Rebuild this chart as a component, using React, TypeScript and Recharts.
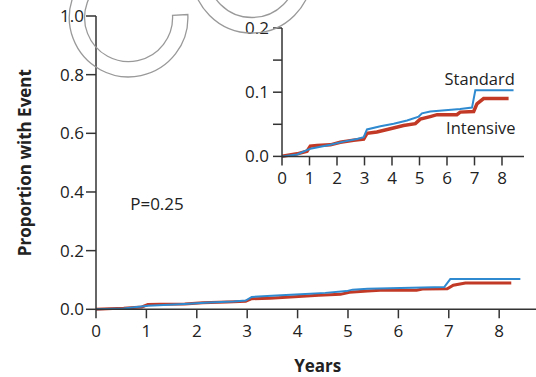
import { LineChart, Line, XAxis, YAxis, ReferenceDot } from 'recharts';

// Kaplan-Meier style cumulative incidence
const standardYears = [0, 0.55, 1.03, 1.76, 2.24, 2.73, 2.97, 3.09, 3.58, 4.06, 4.55, 4.97, 5.09, 5.39, 6.48, 6.91, 7.03, 8.42];
const standardRisk = [0, 0.003, 0.012, 0.018, 0.023, 0.027, 0.03, 0.042, 0.047, 0.051, 0.056, 0.062, 0.067, 0.07, 0.074, 0.076, 0.103, 0.103];

const intensiveYears = [0, 0.55, 0.91, 1.03, 1.27, 1.76, 2.12, 2.6, 2.97, 3.09, 3.45, 3.94, 4.42, 4.85, 5.03, 5.39, 5.64, 6.36, 6.48, 6.97, 7.09, 7.33, 8.24];
const intensiveRisk = [0, 0.004, 0.008, 0.016, 0.017, 0.018, 0.022, 0.025, 0.027, 0.036, 0.038, 0.043, 0.048, 0.051, 0.058, 0.062, 0.065, 0.065, 0.069, 0.07, 0.082, 0.09, 0.09];

const yearTicks = [0, 1, 2, 3, 4, 5, 6, 7, 8];
const mainYTicks = [0, 0.2, 0.4, 0.6, 0.8, 1.0];
const insetYTicks = [0, 0.05, 0.1, 0.15, 0.2];

const FONT = '"Open Sans", Lato, sans-serif';
const BLUE = '#2f8ad0';
const RED = '#c23a25';
const AXIS = '#333';

const standard = standardYears.map((year, i) => ({ year, risk: standardRisk[i] }));
const intensive = intensiveYears.map((year, i) => ({ year, risk: intensiveRisk[i] }));

const axisLine = { stroke: AXIS, strokeWidth: 1.5 };
const tickStyle = { fill: '#222', fontSize: 17, fontFamily: FONT };
const titleStyle = { fontSize: 17, fontWeight: 700, fill: '#222', fontFamily: FONT };

// ring segment for the faint watermark arcs
function ringPath(cx: number, cy: number, ro: number, ri: number, a0: number, a1: number) {
  const rad = (a: number) => (a * Math.PI) / 180;
  const pt = (r: number, a: number) => `${cx + r * Math.cos(rad(a))} ${cy + r * Math.sin(rad(a))}`;
  const large = a1 - a0 > 180 ? 1 : 0;
  return `M ${pt(ro, a0)} A ${ro} ${ro} 0 ${large} 1 ${pt(ro, a1)} L ${pt(ri, a1)} A ${ri} ${ri} 0 ${large} 0 ${pt(ri, a0)} Z`;
}

export default function App() {
  return (
    <div style={{ position: 'absolute', left: 0, top: 0, width: 536, height: 377, overflow: 'hidden', background: '#fff', fontFamily: FONT }}>
      <div style={{ position: 'absolute', left: 0, top: 0 }}>
        <LineChart width={560} height={377} margin={{ top: 16, right: 20.5, bottom: 0, left: 0 }}>
          <XAxis
            dataKey="year" type="number" domain={[0, 8.8]} ticks={yearTicks} interval={0}
            allowDataOverflow height={67.7} tickSize={9} tickMargin={7}
            axisLine={axisLine} tickLine={axisLine} tick={tickStyle}
            label={{ value: 'Years', position: 'insideBottom', offset: 5, style: titleStyle }}
          />
          <YAxis
            type="number" domain={[0, 1]} ticks={mainYTicks} interval={0} width={96}
            tickSize={10} tickFormatter={(v: number) => v.toFixed(1)}
            axisLine={axisLine} tickLine={axisLine} tick={tickStyle}
            label={{ value: 'Proportion with Event', angle: -90, position: 'insideLeft', offset: 25, style: { ...titleStyle, textAnchor: 'middle' } }}
          />
          <Line data={intensive} dataKey="risk" type="linear" stroke={RED} strokeWidth={3} dot={false} isAnimationActive={false} />
          <Line data={standard} dataKey="risk" type="linear" stroke={BLUE} strokeWidth={2} dot={false} isAnimationActive={false} />
          <ReferenceDot x={1.21} y={0.359} r={0} fill="none" stroke="none"
            label={{ value: 'P=0.25', position: 'center', style: { fontSize: 17, fill: '#222', fontFamily: FONT } }} />
        </LineChart>
      </div>

      <div style={{ position: 'absolute', left: 231.7, top: 8.3 }}>
        <LineChart width={302} height={193.4} margin={{ top: 20, right: 10, bottom: 0, left: 0 }}>
          <XAxis
            dataKey="year" type="number" domain={[0, 8.8]} ticks={yearTicks} interval={0}
            allowDataOverflow height={45} tickSize={9} tickMargin={7}
            axisLine={axisLine} tickLine={axisLine} tick={tickStyle}
          />
          <YAxis
            type="number" domain={[0, 0.2]} ticks={insetYTicks} interval={0} width={50}
            tickSize={9} tickMargin={4}
            tickFormatter={(v: number) => (Math.round(v * 100) % 10 === 0 ? v.toFixed(1) : '')}
            axisLine={axisLine} tickLine={axisLine} tick={tickStyle}
          />
          <Line data={intensive} dataKey="risk" type="linear" stroke={RED} strokeWidth={3.5} dot={false} isAnimationActive={false} />
          <Line data={standard} dataKey="risk" type="linear" stroke={BLUE} strokeWidth={2} dot={false} isAnimationActive={false} />
          <ReferenceDot x={7.19} y={0.121} r={0} fill="none" stroke="none"
            label={{ value: 'Standard', position: 'center', style: { fontSize: 16.5, fill: '#222', fontFamily: FONT } }} />
          <ReferenceDot x={7.23} y={0.044} r={0} fill="none" stroke="none"
            label={{ value: 'Intensive', position: 'center', style: { fontSize: 16.5, fill: '#222', fontFamily: FONT } }} />
        </LineChart>
      </div>

      <svg width={536} height={377} style={{ position: 'absolute', left: 0, top: 0, pointerEvents: 'none' }}>
        <path d={ringPath(128.6, 17.6, 59.3, 44, -3, 240)} fill="none" stroke="#999" strokeWidth={1.3} />
        <circle cx={252} cy={-27} r={60} fill="none" stroke="#999" strokeWidth={1.3} />
        <circle cx={252} cy={-27} r={44.5} fill="none" stroke="#999" strokeWidth={1.3} />
      </svg>
    </div>
  );
}
